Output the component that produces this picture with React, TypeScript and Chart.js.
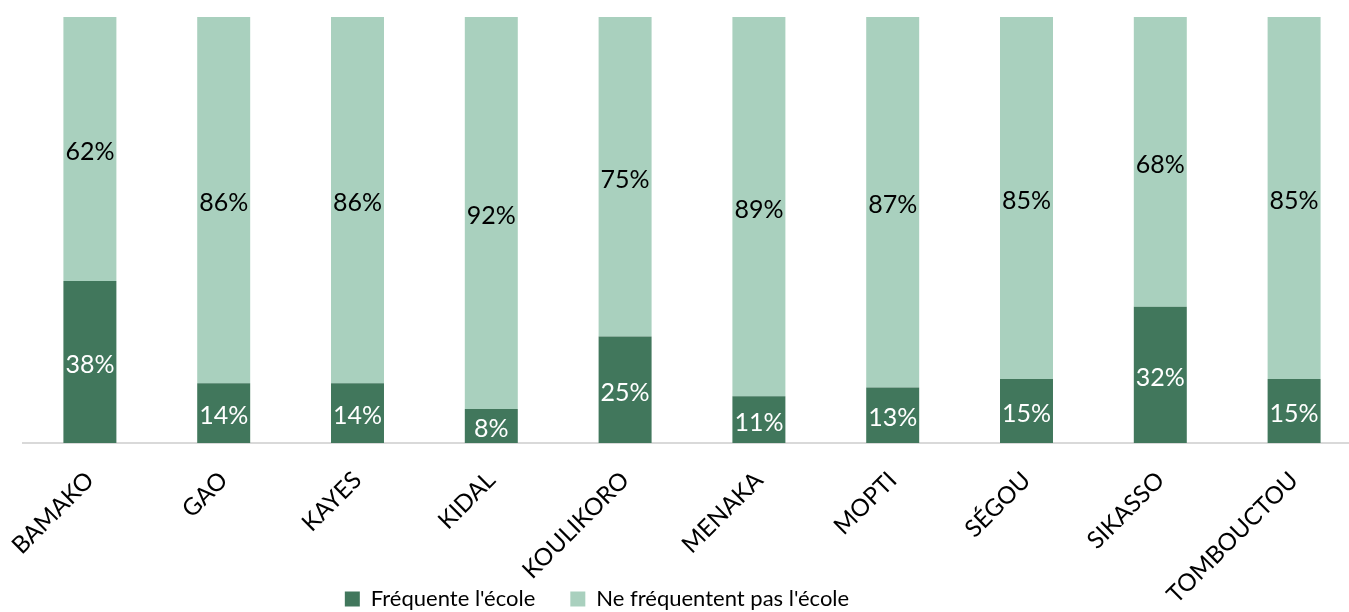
import React, { useEffect, useRef } from "react";
import { Chart, registerables } from "chart.js";

Chart.register(...registerables);

const categories = ["BAMAKO", "GAO", "KAYES", "KIDAL", "KOULIKORO", "MENAKA", "MOPTI", "SÉGOU", "SIKASSO", "TOMBOUCTOU"];
const attend = [38, 14, 14, 8, 25, 11, 13, 15, 32, 15];
const notAttend = [62, 86, 86, 92, 75, 89, 87, 85, 68, 85];
const seriesNames = ["Fréquente l'école", "Ne fréquentent pas l'école"];

const DARK = "#41775C";
const LIGHT = "#A9D0BE";
const FONT = "Lato, 'Open Sans', sans-serif";

const dataLabels = {
  id: "dataLabels",
  afterDatasetsDraw(chart: any) {
    const ctx = chart.ctx;
    ctx.save();
    ctx.font = `25px ${FONT}`;
    ctx.textAlign = "center";
    ctx.textBaseline = "middle";
    chart.data.datasets.forEach((ds: any, i: number) => {
      const meta = chart.getDatasetMeta(i);
      meta.data.forEach((bar: any, j: number) => {
        const p = bar.getProps(["x", "y", "base"], true);
        ctx.fillStyle = i === 0 ? "#FFFFFF" : "#000000";
        ctx.fillText(ds.data[j] + "%", p.x, (p.y + p.base) / 2 + 3);
      });
    });
    ctx.restore();
  },
};

const layoutTweak = {
  id: "layoutTweak",
  afterLayout(chart: any) {
    const lg = chart.legend;
    if (lg) {
      lg.left -= 190;
      lg.top += 8;
      lg.bottom += 8;
    }
    const xs = chart.scales.x;
    if (xs) {
      xs.bottom = chart.height;
    }
  },
};

export default function App() {
  const ref = useRef<HTMLCanvasElement>(null);
  useEffect(() => {
    if (!ref.current) return;
    const chart = new Chart(ref.current, {
      type: "bar",
      data: {
        labels: categories,
        datasets: [
          { label: seriesNames[0], data: attend, backgroundColor: DARK, categoryPercentage: 1, barPercentage: 0.396 },
          { label: seriesNames[1], data: notAttend, backgroundColor: LIGHT, categoryPercentage: 1, barPercentage: 0.396 },
        ],
      },
      options: {
        animation: false,
        responsive: false,
        maintainAspectRatio: false,
        layout: { padding: { left: 23, right: 4, top: 17, bottom: 0 } },
        plugins: {
          legend: {
            position: "bottom",
            labels: {
              boxWidth: 15,
              boxHeight: 15,
              padding: 35,
              color: "#000000",
              font: { family: FONT, size: 22 },
            },
          },
          tooltip: { enabled: false },
        },
        scales: {
          x: {
            stacked: true,
            grid: { display: false, drawTicks: false },
            border: { display: true, color: "#D9D9D9", width: 2 },
            ticks: {
              color: "#000000",
              font: { family: FONT, size: 24 },
              minRotation: 45,
              maxRotation: 45,
              padding: 23,
              autoSkip: false,
            },
            afterFit(scale: any) {
              scale.height = 102;
              scale.paddingLeft = 0;
              scale.paddingRight = 0;
            },
          },
          y: {
            stacked: true,
            display: false,
            min: 0,
            max: 100,
          },
        },
      },
      plugins: [dataLabels, layoutTweak],
    });
    return () => chart.destroy();
  }, []);
  return (
    <div style={{ position: "absolute", left: 0, top: 0, width: 1349, height: 612, overflow: "hidden" }}>
      <canvas ref={ref} width={1365} height={612} style={{ display: "block" }} />
    </div>
  );
}
